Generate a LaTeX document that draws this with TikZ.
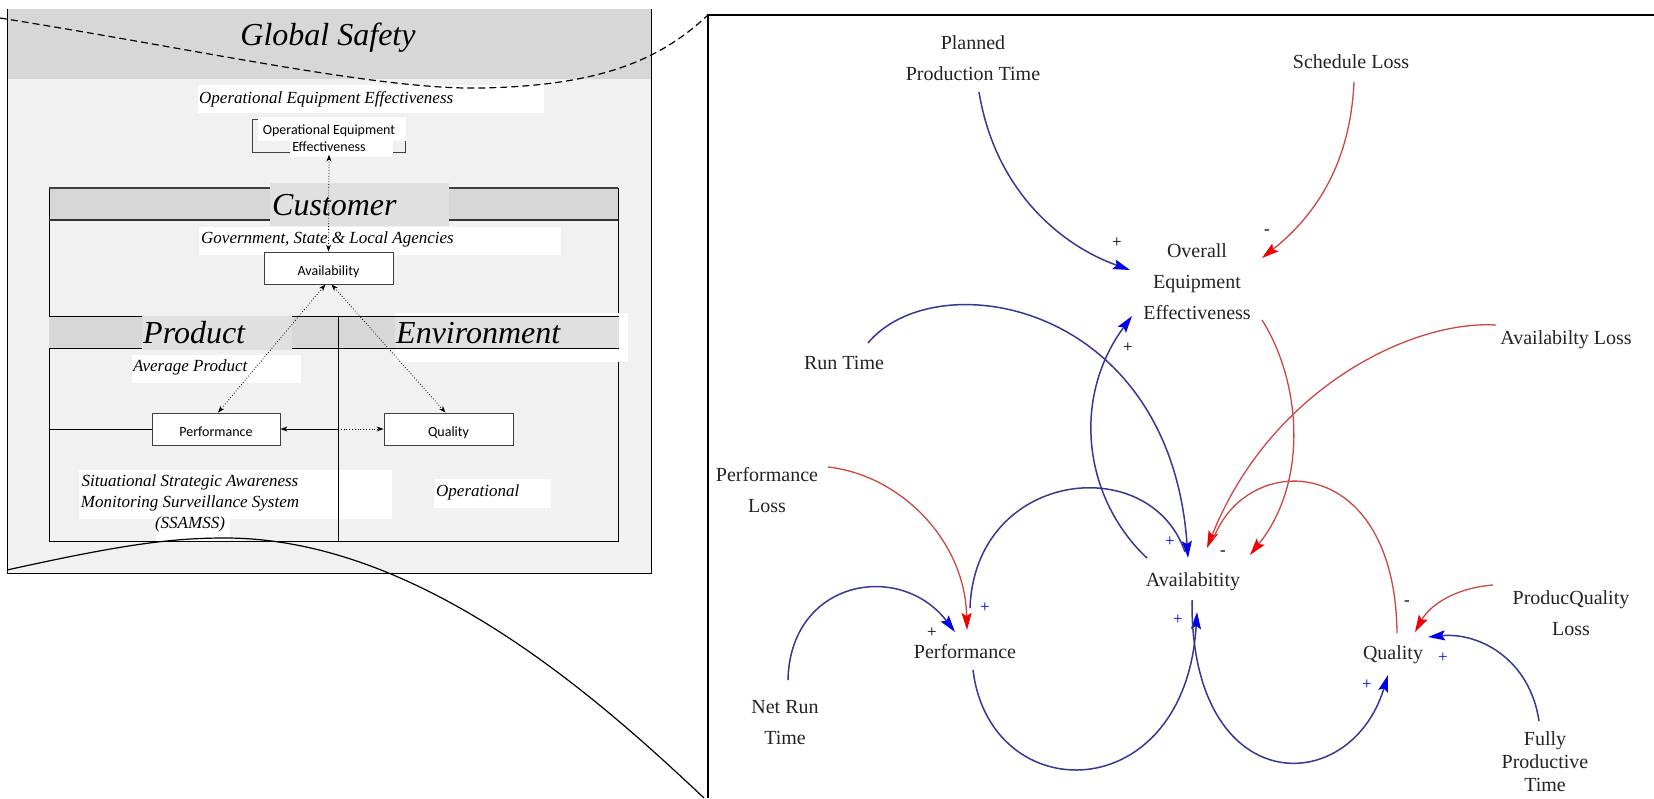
\documentclass[tikz,border=0pt]{standalone}
\usepackage{fontspec}
\setmainfont{Liberation Serif}
\newfontfamily\boxfont{Carlito}
\usetikzlibrary{arrows.meta}

\definecolor{panelgray}{RGB}{241,241,241}
\definecolor{bandgray}{RGB}{215,215,215}
\definecolor{bandlight}{RGB}{224,224,224}
\definecolor{lineblue}{RGB}{55,55,150}
\definecolor{tipblue}{RGB}{0,0,235}
\definecolor{linered}{RGB}{205,70,70}
\definecolor{tipred}{RGB}{240,0,0}
\definecolor{txtgray}{RGB}{35,35,35}

\tikzset{
  boxc/.style={draw=black!75, fill=white, line width=0.8pt, font=\boxfont\fontsize{14}{17}\selectfont, align=center, text height=17pt, text depth=2pt},
  itxt/.style={font=\itshape\fontsize{17}{21}\selectfont, inner sep=0pt},
  bigtxt/.style={font=\itshape\fontsize{32}{38}\selectfont, inner sep=0pt},
  var/.style={font=\fontsize{20}{31}\selectfont, text=txtgray, align=center, inner sep=0pt},
  pol/.style={font=\fontsize{17}{17}\selectfont, inner sep=0pt},
  dotarr/.style={dotted, line width=0.8pt, {Stealth[length=7pt,width=5pt]}-{Stealth[length=7pt,width=5pt]}},
  posarr/.style={lineblue, line width=1.5pt, -{Stealth[length=17pt,width=10pt,inset=3pt,color=tipblue]}},
  negarr/.style={linered, line width=1.3pt, -{Stealth[length=17pt,width=10pt,inset=3pt,color=tipred]}},
}

\begin{document}
\begin{tikzpicture}[x=1pt,y=-1pt]
\useasboundingbox (0,0) rectangle (1654,798);

% left panel
\fill[panelgray] (7,9) rectangle (651,573);
\fill[bandgray] (7,9) rectangle (651,79);
\draw[line width=1pt] (7,9) -- (7,573) -- (651,573) -- (651,9);
\node[bigtxt] (gs) at (328,38) {Global Safety};

\fill[white] (198,85) rectangle (544,113);
\node[itxt, anchor=west] (oeetxt) at (199,99) {Operational Equipment Effectiveness};

% customer frame
\fill[bandgray] (49,188) rectangle (618,220);
\draw[line width=0.8pt] (49,188) rectangle (618,541);
\draw[line width=1.5pt, black!75] (49,188) -- (618,188);
\draw[line width=1.5pt, black!80] (49,220) -- (618,220);
\fill[bandlight] (270,183) rectangle (449,226);
\node[bigtxt, anchor=west] (cust) at (272,205) {Customer};

\fill[white] (199,227) rectangle (561,255);
\node[itxt, anchor=west] (govtxt) at (201,239) {Government, State \& Local Agencies};

% product / environment
\fill[bandgray] (49,316) rectangle (618,348);
\draw[line width=0.8pt] (49,316) -- (618,316) (49,348) -- (618,348);
\fill[bandlight] (142,316) rectangle (292,350);
\node[bigtxt, anchor=west] (prod) at (143,333) {Product};
\fill[white] (395,313) rectangle (628,362);
\fill[bandlight] (395,316) rectangle (619,348);
\draw[line width=0.8pt] (395,316) -- (619,316) (395,348) -- (619,348);
\node[bigtxt, anchor=west] (env) at (396,333) {Environment};

\fill[white] (132,355) rectangle (301,383);
\node[itxt, anchor=west] (avgtxt) at (133,367) {Average Product};

\fill[white] (79,470) rectangle (392,519);
\fill[white] (156,516) rectangle (230,541);
\node[itxt, align=center] (ssamss) at (190,503) {Situational Strategic Awareness\\Monitoring Surveillance System\\(SSAMSS)};
\draw[line width=0.8pt] (338,316) -- (338,541);

\fill[white] (434,479) rectangle (551,508);
\node[itxt, anchor=west] (optxt) at (436,492) {Operational};

% boxes
\draw[black!75, line width=0.8pt] (252,119) rectangle (405,152);
\fill[white] (258,117) rectangle (406,141);
\fill[white] (290,141) rectangle (393,157);
\node[font=\boxfont\fontsize{14}{17}\selectfont, align=center, inner sep=0pt] (oeebox) at (329,138) {Operational Equipment\\Effectiveness};
\node[boxc, minimum width=129, minimum height=32] (avbox) at (328.5,268) {Availability};
\node[boxc, minimum width=128, minimum height=32] (perfbox) at (216,429) {Performance};
\node[boxc, minimum width=129, minimum height=32] (qualbox) at (448.5,429) {Quality};

\draw[dotarr] ([yshift=-3pt]oeebox.south) -- (avbox.north);
\draw[dotarr] ([xshift=-3pt]avbox.south) -- ([xshift=2pt]perfbox.north);
\draw[dotarr] ([xshift=3pt]avbox.south) -- ([xshift=-3pt]qualbox.north);
\draw[line width=0.8pt] (49,429) -- (perfbox.west);
\coordinate (divmid) at (338,429);
\draw[line width=1pt, {Stealth[length=7pt,width=5pt]}-] (perfbox.east) -- (divmid);
\draw[dotted, line width=0.8pt, -{Stealth[length=7pt,width=5pt]}] (divmid) -- (qualbox.west);

% zoom lines
\coordinate (rcorner) at (708,15);
\draw[dash pattern=on 7pt off 4pt, line width=1.2pt] (0,18) .. controls (200,50) and (380,90) .. (480,88) .. controls (600,86) and (660,60) .. (rcorner);
\draw[line width=1.2pt] (7,570) .. controls (120,545) and (170,538) .. (225,538) .. controls (420,538) and (600,700) .. (704,798);

% right panel
\draw[line width=1.5pt] (708,798) -- (rcorner) -- (1654,15);

\node[var] (ppt) at (973,58) {Planned\\Production Time};
\node[var] (sl) at (1351,62) {Schedule Loss};
\node[var] (oee) at (1197,282) {Overall\\Equipment\\Effectiveness};
\node[var] (rt) at (844,363) {Run Time};
\node[var] (al) at (1566,340) {Availabilty Loss};
\node[var] (pl) at (767,490) {Performance\\Loss};
\node[var] (av) at (1193,582) {Availabitity};
\node[var] (pf) at (965,652) {Performance};
\node[var] (nrt) at (785,723) {Net Run\\Time};
\node[var] (ql) at (1393,655) {Quality};
\node[var] (pql) at (1571,613) {ProducQuality\\Loss};
\node[var, font=\fontsize{20}{23}\selectfont] (fpt) at (1545,762) {Fully\\Productive\\Time};

\draw[posarr] ([shift={(6,34)}]ppt.center) .. controls (995,190) and (1060,245) .. ([shift={(-67,-12)}]oee.center);
\draw[negarr] ([shift={(3,20)}]sl.center) .. controls (1350,170) and (1310,220) .. ([shift={(65,-24)}]oee.center);
\draw[posarr] ([shift={(24,-20)}]rt.center) .. controls (935,262) and (1170,300) .. ([shift={(-5,-24)}]av.center);
\draw[posarr] ([shift={(-46,-24)}]av.center) .. controls (1085,500) and (1070,400) .. ([shift={(-65,34)}]oee.center);
\draw[negarr] ([shift={(65,38)}]oee.center) .. controls (1300,380) and (1310,480) .. ([shift={(57,-27)}]av.center);
\draw[negarr] ([shift={(-70,-15)}]al.center) .. controls (1410,320) and (1270,390) .. ([shift={(14,-34)}]av.center);
\draw[lineblue, line width=1.5pt] ([shift={(5,-44)}]pf.center) .. controls (975,470) and (1150,450) .. ([shift={(-8,-30)}]av.center);
\draw[negarr] ([shift={(61,-23)}]pl.center) .. controls (900,475) and (965,540) .. ([shift={(2,-22)}]pf.center);
\draw[posarr] ([shift={(8,18)}]pf.center) .. controls (990,810) and (1185,810) .. ([shift={(4,30)}]av.center);
\draw[posarr] ([shift={(-1,18)}]av.center) .. controls (1190,800) and (1350,800) .. ([shift={(-5,20)}]ql.center);
\draw[linered, line width=1.3pt] ([shift={(4,-22)}]ql.center) .. controls (1395,450) and (1245,450) .. ([shift={(20,-42)}]av.center);
\draw[posarr] ([shift={(3,-43)}]nrt.center) .. controls (790,580) and (900,560) .. ([shift={(-10,-20)}]pf.center);
\draw[negarr] ([shift={(-78,-28)}]pql.center) .. controls (1455,588) and (1430,605) .. ([shift={(22,-23)}]ql.center);
\draw[posarr] ([shift={(-6,-41)}]fpt.center) .. controls (1530,660) and (1480,632) .. ([shift={(35,-18)}]ql.center);

% polarities
\node[pol] (p1) at (1117,243) {+};
\node[pol] (p2) at (1267,232) {-};
\node[pol, text=tipblue] (p3) at (1170,542) {+};
\node[pol] (p4) at (1128,348) {+};
\node[pol] (p5) at (1223,553) {-};
\node[pol, text=tipblue] (p6) at (985,608) {+};
\node[pol] (p7) at (932,633) {+};
\node[pol, text=tipblue] (p8) at (1178,620) {+};
\node[pol, text=tipblue] (p9) at (1367,685) {+};
\node[pol] (p10) at (1407,603) {-};
\node[pol, text=tipblue] (p11) at (1443,658) {+};

\end{tikzpicture}
\end{document}
